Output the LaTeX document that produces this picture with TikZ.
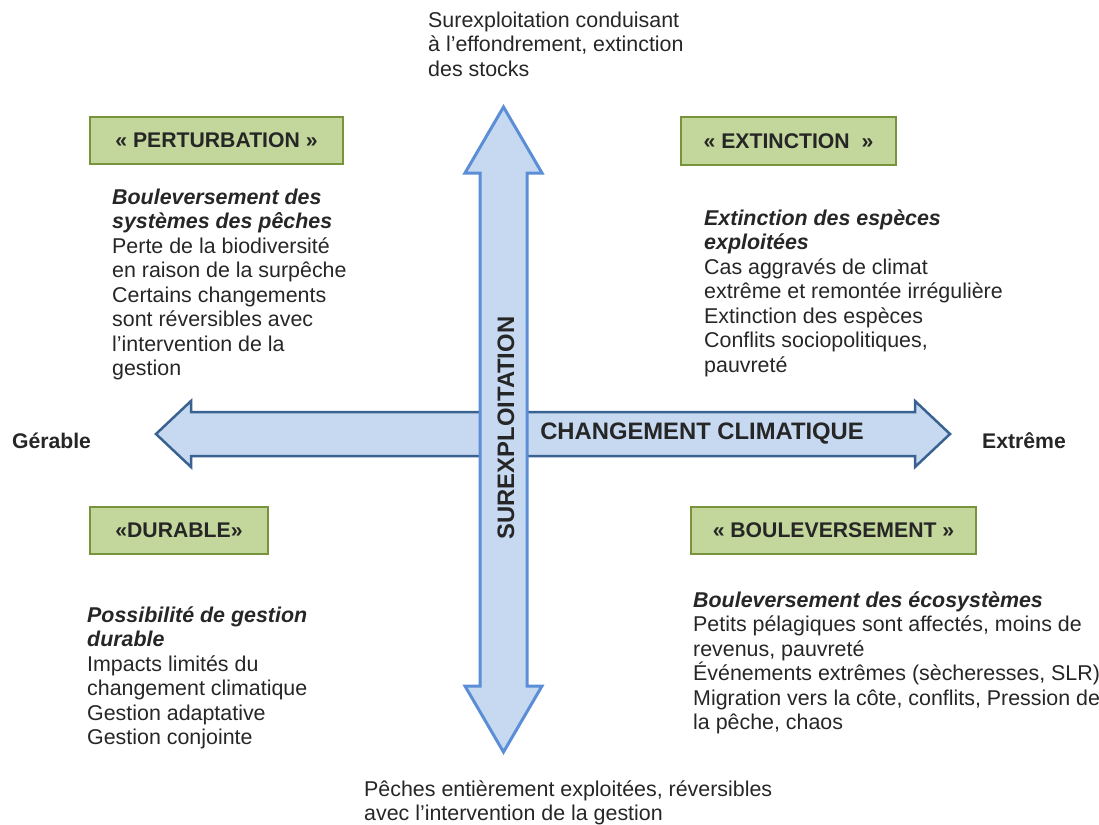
\documentclass[tikz,border=0pt]{standalone}
\usepackage{fontspec}
\setmainfont{Liberation Sans}
\definecolor{ink}{HTML}{262626}
\definecolor{leaf}{HTML}{C3D69B}
\definecolor{leafedge}{HTML}{77933C}
\definecolor{sky}{HTML}{C6D9F1}
\definecolor{hedge}{HTML}{3A6291}
\definecolor{vedge}{HTML}{5B8ED6}
\newcommand\bodyfont{\fontsize{21.4}{24.5}\selectfont}
\newcommand\tagfont{\bfseries\fontsize{21.2}{24}\selectfont}
\newcommand\axisfont{\bfseries\fontsize{23.8}{26}\selectfont}
\newcommand\hi[1]{\textbf{\textit{#1}}}
\begin{document}
\begin{tikzpicture}[x=1pt,y=-1pt,every node/.style={text=ink},
    tag/.style={draw=leafedge,fill=leaf,line width=2pt,font=\tagfont,minimum height=47pt,inner sep=0pt},
    blurb/.style={anchor=north west,align=left,inner sep=0pt,font=\bodyfont},
    pole/.style={font=\tagfont,inner sep=0pt},
    axis/.style={fill=sky,line width=2.5pt,line join=miter}]
  \useasboundingbox (0,0) rectangle (1099,824);
  % the two axes
  \draw[axis,draw=hedge] (156,434) -- (191,401) -- (191,412) -- (915,412) -- (915,401) -- (950,434)
    -- (915,467) -- (915,456) -- (191,456) -- (191,467) -- cycle;
  \draw[axis,draw=vedge,line width=3pt] (503.5,107) -- (542,173) -- (527,173) -- (527,686) -- (542,686)
    -- (503.5,752) -- (465,686) -- (480,686) -- (480,173) -- (465,173) -- cycle;
  \node[pole,font=\axisfont] (cc) at (702,434) {CHANGEMENT CLIMATIQUE};
  \node[pole,font=\axisfont,rotate=90] (se) at (506,428) {SUREXPLOITATION};
  \node[pole] (ger) at (51.5,441) {Gérable};
  \node[pole] (ext) at (1024,441) {Extrême};
  % scenario boxes
  \node[tag,minimum width=253pt] (pert) at (216.5,140.5) {« PERTURBATION »};
  \node[tag,minimum width=215pt] (extc) at (788.5,141) {« EXTINCTION~~»};
  \node[tag,minimum width=178pt] (dur) at (179,530) {«DURABLE»};
  \node[tag,minimum width=285pt] (boul) at (833.5,530.5) {« BOULEVERSEMENT »};
  % texts
  \node[blurb] (top) at (428,10) {\strut Surexploitation conduisant\\à l’effondrement, extinction\\des stocks};
  \node[blurb] (bot) at (364,779) {\strut Pêches entièrement exploitées, réversibles\\avec l’intervention de la gestion};
  \node[blurb] (tl) at (112,187) {\strut\hi{Bouleversement des}\\\hi{systèmes des pêches}\\Perte de la biodiversité\\en raison de la surpêche\\Certains changements\\sont réversibles avec\\l’intervention de la\\gestion};
  \node[blurb] (tr) at (704,208) {\strut\hi{Extinction des espèces}\\\hi{exploitées}\\Cas aggravés de climat\\extrême et remontée irrégulière\\Extinction des espèces\\Conflits sociopolitiques,\\pauvreté};
  \node[blurb] (bl) at (87,605) {\strut\hi{Possibilité de gestion}\\\hi{durable}\\Impacts limités du\\changement climatique\\Gestion adaptative\\Gestion conjointe};
  \node[blurb] (br) at (693,590) {\strut\hi{Bouleversement des écosystèmes}\\Petits pélagiques sont affectés, moins de\\revenus, pauvreté\\Événements extrêmes (sècheresses, SLR)\\Migration vers la côte, conflits, Pression de\\la pêche, chaos};
\end{tikzpicture}
\end{document}
